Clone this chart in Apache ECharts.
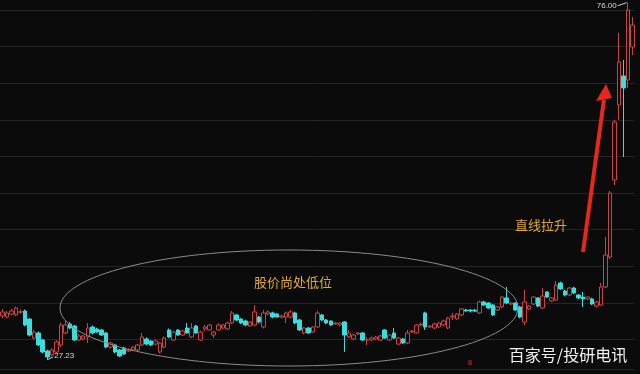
<!DOCTYPE html>
<html><head><meta charset="utf-8">
<script src="https://cdn.jsdelivr.net/npm/echarts@6/dist/echarts.min.js"></script>
<style>html,body{margin:0;padding:0;background:#0b0b0b;}#c{width:640px;height:374px;}</style>
</head><body><div id="c"></div>
<script>
const opens = [
33.21,33.07,33.48,33.35,33.74,33.89,32.80,30.20,30.89,29.93,
28.43,27.88,28.29,29.25,30.89,32.12,31.84,29.93,30.07,30.34,
31.71,31.43,31.30,30.89,28.97,29.25,28.57,28.84,28.43,28.57,
28.57,29.25,30.07,29.79,29.38,28.29,28.97,31.30,29.93,31.30,
30.61,31.57,30.34,31.84,29.93,31.43,31.30,30.61,31.30,31.57,
31.43,32.25,33.35,32.80,32.53,31.84,31.98,33.07,31.71,33.48,
33.62,33.48,33.07,33.07,33.07,33.62,32.66,30.89,31.57,31.02,
31.71,33.35,32.66,32.53,32.12,31.98,32.39,30.34,30.07,30.75,
30.89,29.93,29.93,30.07,29.93,31.30,29.93,30.89,29.38,30.07,
29.52,31.02,30.89,31.98,33.62,31.71,31.57,31.71,31.98,31.57,
33.07,32.80,33.35,34.03,34.03,34.00,33.62,35.12,34.98,34.71,
34.03,34.44,35.67,34.85,34.98,34.44,32.39,34.17,34.85,35.67,
34.30,36.49,35.25,35.39,37.72,36.62,36.08,37.03,36.08,35.80,
35.53,35.53,34.57,34.71,37.17,41.27,51.78,62.03,65.99,65.44,
69.95];
const closes = [
33.76,33.62,33.89,34.30,33.78,31.98,30.61,31.02,29.25,28.29,
27.61,28.57,29.66,31.98,31.98,31.57,29.93,30.48,30.48,31.57,
30.89,31.02,30.61,28.97,29.52,28.29,27.74,28.02,28.57,28.97,
29.25,30.34,29.38,29.25,29.79,29.52,30.20,30.34,31.02,30.61,
31.16,30.89,31.57,30.89,31.02,31.71,31.98,31.02,31.98,31.98,
32.25,33.62,32.66,32.25,31.98,32.39,33.76,32.39,33.62,33.76,
33.07,33.07,33.21,33.62,33.76,32.25,31.30,31.57,30.89,31.71,
33.62,32.66,32.25,31.98,32.25,32.25,30.61,30.89,30.61,30.89,
29.93,29.96,30.20,30.34,30.48,30.20,30.61,30.20,30.20,29.52,
30.89,31.16,31.98,32.12,31.71,31.84,32.12,32.25,32.53,32.94,
33.21,33.48,34.17,33.89,33.89,33.87,35.12,34.71,34.30,33.35,
34.44,35.80,34.98,34.98,34.03,33.07,35.12,34.57,35.80,34.57,
35.94,35.80,35.67,37.44,36.90,36.08,37.03,36.35,35.67,35.53,
35.80,34.85,35.12,37.17,41.54,50.01,59.70,67.90,64.35,75.00,
72.95];
const lows = [
32.94,32.90,33.30,33.20,33.50,31.80,30.40,29.95,29.10,28.10,
27.23,27.70,28.10,29.00,30.70,31.40,29.80,29.80,29.90,29.52,
30.70,30.90,30.50,28.80,28.80,28.10,27.60,27.90,28.30,28.40,
28.40,29.10,29.20,29.10,29.20,28.10,28.80,30.20,29.80,30.50,
30.50,30.80,30.20,30.80,29.80,31.16,31.20,30.20,31.20,31.40,
31.30,32.10,32.50,32.10,31.80,31.70,31.80,32.20,31.50,33.30,
32.90,33.00,32.90,32.25,32.90,32.10,31.20,30.70,30.80,30.90,
31.60,32.50,32.10,31.90,32.00,31.80,28.29,30.20,29.90,30.60,
29.80,29.25,29.80,29.90,29.80,30.10,29.80,30.10,29.25,29.40,
29.40,30.90,30.80,31.80,31.30,31.60,31.40,31.60,31.80,31.40,
32.66,32.70,33.20,33.80,33.70,33.80,33.50,34.60,34.20,33.20,
33.90,34.30,34.85,34.70,33.90,32.90,31.98,34.00,34.70,34.40,
34.20,35.70,35.10,35.30,36.80,35.90,35.90,36.20,35.50,34.44,
35.40,34.70,34.40,34.60,37.00,41.00,51.10,59.98,54.92,64.35,
68.85];
const highs = [
34.17,33.90,34.20,34.50,34.10,34.10,32.90,31.30,31.10,30.10,
28.60,28.80,29.90,32.30,32.66,32.40,32.00,30.70,30.60,32.25,
31.90,31.60,31.40,31.00,29.70,29.40,28.70,29.00,28.80,29.10,
29.40,30.89,30.30,29.90,30.00,29.70,30.40,31.50,31.20,31.40,
31.30,32.25,32.25,32.00,31.20,31.98,32.10,31.20,32.20,32.10,
32.40,33.90,33.50,32.90,32.70,32.50,34.71,33.20,34.03,34.00,
33.80,33.60,33.40,33.80,34.03,33.80,32.80,31.70,31.70,31.80,
33.89,33.50,32.80,32.60,32.40,32.40,32.50,31.30,30.80,31.00,
31.00,30.34,30.40,30.50,30.60,31.40,30.70,31.57,30.34,30.20,
31.30,31.30,32.10,32.30,33.80,32.00,32.30,32.40,32.70,33.10,
33.62,33.60,34.30,34.20,34.10,34.20,35.30,35.30,35.10,34.85,
34.60,35.90,37.17,35.10,35.10,34.60,36.76,34.70,35.90,35.80,
37.03,36.60,35.80,37.99,37.90,36.80,37.20,37.20,36.20,36.49,
35.90,35.70,35.30,37.72,44.00,50.30,60.00,71.86,68.17,76.00,
74.04];
const categories = opens.map((_, i) => 'D' + (i + 1));
const yTicks = [30, 35, 40, 45, 50, 55, 60, 65, 70, 75];
const noteLow = '股价尚处低位';
const noteRise = '直线拉升';
const watermark = '百家号/投研电讯';

const candles = opens.map((o, i) => [o, closes[i], lows[i], highs[i]]);
const chart = echarts.init(document.getElementById('c'));
const GRID = '#252525';
chart.setOption({
  backgroundColor: '#0b0b0b',
  animation: false,
  grid: {left: 0, right: 5.5, top: 10, bottom: 34.5},
  xAxis: {type: 'category', data: categories, boundaryGap: true, offset: 30,
    axisLine: {show: true, lineStyle: {color: GRID}}, axisTick: {show: false},
    axisLabel: {show: false}, splitLine: {show: false}},
  yAxis: {type: 'value', min: yTicks[0], max: yTicks[yTicks.length - 1], interval: 5,
    axisLine: {show: false}, axisTick: {show: false}, axisLabel: {show: false},
    splitLine: {show: true, lineStyle: {color: GRID, width: 1}}},
  series: [{type: 'candlestick', clip: false, barWidth: 4, data: candles,
    itemStyle: {color: '#0b0b0b', color0: '#3adcdc', borderColor: '#cf4242', borderColor0: '#3adcdc', borderWidth: 1}}]
});

const maxIdx = highs.indexOf(Math.max(...highs));
const minIdx = lows.indexOf(Math.min(...lows));
const pMax = chart.convertToPixel({seriesIndex: 0}, [maxIdx, highs[maxIdx]]);
const pMin = chart.convertToPixel({seriesIndex: 0}, [minIdx, lows[minIdx]]);
const numFont = '8px "Liberation Sans", sans-serif';
const cjk = '"Noto Sans CJK SC", sans-serif';
chart.setOption({
  graphic: [
    {type: 'ellipse', z: 10, silent: true, shape: {cx: 289, cy: 308, rx: 229, ry: 58},
      style: {fill: null, stroke: '#8a8a8a', lineWidth: 1}},
    {type: 'text', z: 11, x: 293, y: 282, style: {text: noteLow, fill: '#e3a92c', font: '13px ' + cjk, textAlign: 'center', textVerticalAlign: 'middle'}},
    {type: 'text', z: 11, x: 541, y: 225, style: {text: noteRise, fill: '#e3a92c', font: '13px ' + cjk, textAlign: 'center', textVerticalAlign: 'middle'}},
    {type: 'polygon', z: 11, shape: {points: [[581, 252], [585, 252], [606, 100], [602, 99]]}, style: {fill: '#e5271f'}},
    {type: 'polygon', z: 11, shape: {points: [[596, 101], [612, 98], [606, 84]]}, style: {fill: '#e5271f'}},
    {type: 'line', z: 11, shape: {x1: pMax[0] - 10, y1: pMax[1] + 3, x2: pMax[0] - 1, y2: pMax[1]}, style: {stroke: '#cccccc', lineWidth: 1}},
    {type: 'text', z: 11, x: pMax[0] - 11, y: pMax[1] + 3, style: {text: highs[maxIdx].toFixed(2), fill: '#d8d8d8', font: numFont, textAlign: 'right', textVerticalAlign: 'middle'}},
    {type: 'line', z: 11, shape: {x1: pMin[0], y1: pMin[1], x2: pMin[0] + 6, y2: pMin[1] - 3}, style: {stroke: '#cccccc', lineWidth: 1}},
    {type: 'text', z: 11, x: pMin[0] + 7, y: pMin[1] - 4, style: {text: lows[minIdx].toFixed(2), fill: '#d8d8d8', font: numFont, textAlign: 'left', textVerticalAlign: 'middle'}},
    {type: 'text', z: 11, x: 470, y: 363, style: {text: '8', fill: '#d02a2a', font: '8px "Liberation Sans", sans-serif', textAlign: 'center', textVerticalAlign: 'middle'}},
    {type: 'text', z: 11, x: 568, y: 355, style: {text: watermark, fill: '#f2f2f2', font: '16px ' + cjk, textAlign: 'center', textVerticalAlign: 'middle'}}
  ]
});
</script></body></html>
